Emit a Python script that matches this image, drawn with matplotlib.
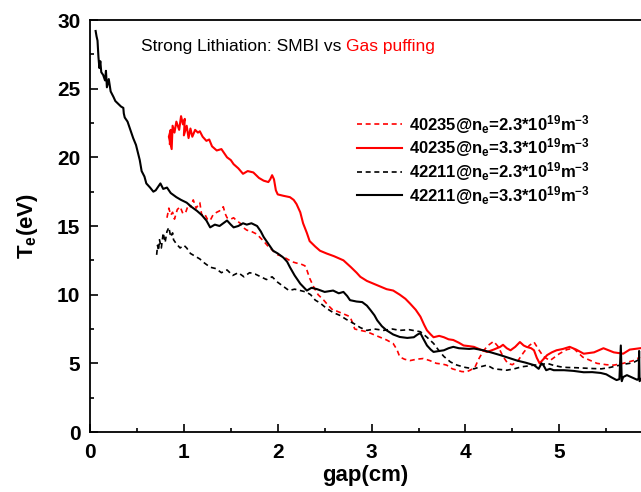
import matplotlib
matplotlib.use("Agg")
import matplotlib.pyplot as plt

plt.rcParams['font.family'] = ['Liberation Sans', 'DejaVu Sans']
plt.rcParams['mathtext.fontset'] = 'custom'
plt.rcParams['mathtext.rm'] = 'Liberation Sans:bold'
plt.rcParams['mathtext.it'] = 'Liberation Sans:bold'
plt.rcParams['mathtext.bf'] = 'Liberation Sans:bold'
plt.rcParams['mathtext.default'] = 'rm'

# ---------------- data ----------------
black_solid = [
    (0.06, 29.2), (0.07, 28.8), (0.08, 28.5), (0.09, 27.3), (0.10, 26.5), (0.11, 27.0),
    (0.12, 26.2), (0.14, 26.0), (0.16, 25.6), (0.17, 26.3), (0.18, 25.1), (0.20, 25.7),
    (0.22, 24.8), (0.25, 24.4), (0.27, 24.1), (0.30, 23.9), (0.33, 23.7), (0.355, 23.6),
    (0.36, 23.2), (0.37, 22.9), (0.40, 22.6), (0.43, 22.0), (0.46, 21.4), (0.49, 20.9),
    (0.515, 20.2), (0.53, 19.8), (0.55, 19.0), (0.58, 18.6), (0.60, 18.1), (0.64, 17.8),
    (0.675, 17.5), (0.70, 17.6), (0.73, 17.9), (0.75, 18.1), (0.78, 17.7), (0.82, 17.8),
    (0.86, 17.4), (0.92, 17.1), (0.97, 16.9), (1.03, 16.7), (1.08, 16.4), (1.14, 16.1),
    (1.19, 15.8), (1.24, 15.4), (1.28, 14.9), (1.33, 15.1), (1.38, 15.0), (1.42, 15.2),
    (1.46, 15.4), (1.50, 15.1), (1.53, 14.9), (1.58, 15.0), (1.63, 15.2), (1.67, 15.1),
    (1.72, 15.2), (1.78, 15.0), (1.82, 14.6), (1.85, 14.2), (1.90, 13.7), (1.95, 13.2),
    (2.00, 13.0), (2.06, 12.7), (2.10, 12.4), (2.13, 12.0), (2.18, 11.4), (2.24, 10.8),
    (2.31, 10.3), (2.36, 10.5), (2.42, 10.4), (2.50, 10.2), (2.59, 10.3), (2.65, 10.1),
    (2.70, 10.2), (2.74, 9.9), (2.77, 9.6), (2.84, 9.5), (2.90, 9.46), (2.95, 9.2),
    (2.99, 8.86), (3.03, 8.5), (3.06, 8.13), (3.11, 7.7), (3.16, 7.4), (3.23, 7.1),
    (3.30, 6.92), (3.38, 6.85), (3.45, 6.9), (3.49, 7.1), (3.52, 7.2), (3.55, 6.8),
    (3.59, 6.3), (3.63, 6.0), (3.66, 5.83), (3.72, 5.9), (3.77, 5.95), (3.82, 6.1),
    (3.87, 6.2), (3.93, 6.1), (3.98, 6.08), (4.04, 6.05), (4.09, 6.08), (4.19, 5.95),
    (4.28, 5.78), (4.37, 5.6), (4.46, 5.4), (4.55, 5.2), (4.64, 5.05), (4.73, 4.87),
    (4.78, 4.6), (4.81, 5.0), (4.83, 4.87), (4.86, 4.5), (4.90, 4.6), (4.94, 4.5),
    (5.05, 4.5), (5.15, 4.45), (5.26, 4.35), (5.35, 4.36), (5.44, 4.3), (5.50, 4.2),
    (5.55, 4.0), (5.61, 3.78), (5.64, 3.85), (5.655, 6.3), (5.665, 3.7), (5.68, 4.0),
    (5.72, 4.14), (5.78, 3.95), (5.83, 3.8), (5.845, 3.9), (5.85, 5.9), (5.855, 3.7),
    (5.87, 3.85),
]

black_dashed = [
    (0.71, 12.9), (0.72, 13.6), (0.73, 13.2), (0.74, 14.0), (0.76, 13.4), (0.78, 14.5),
    (0.80, 13.8), (0.82, 14.6), (0.84, 14.9), (0.86, 14.2), (0.88, 14.5), (0.89, 14.0),
    (0.92, 13.7), (0.96, 13.4), (1.00, 13.6), (1.03, 13.4), (1.07, 13.0), (1.12, 12.8),
    (1.17, 12.6), (1.22, 12.3), (1.28, 12.0), (1.34, 11.9), (1.40, 11.6), (1.46, 11.8),
    (1.52, 11.4), (1.58, 11.6), (1.64, 11.3), (1.70, 11.6), (1.76, 11.5), (1.82, 11.3),
    (1.88, 11.1), (1.94, 11.3), (2.00, 10.9), (2.06, 10.6), (2.12, 10.3), (2.18, 10.4),
    (2.24, 10.3), (2.30, 10.2), (2.35, 10.0), (2.40, 9.6), (2.45, 9.4), (2.52, 9.0),
    (2.59, 8.7), (2.66, 8.5), (2.73, 8.2), (2.81, 7.9), (2.88, 7.6), (2.95, 7.4),
    (3.03, 7.5), (3.13, 7.4), (3.22, 7.5), (3.30, 7.4), (3.40, 7.45), (3.52, 7.3),
    (3.59, 6.9), (3.66, 6.45), (3.72, 5.9), (3.77, 5.5), (3.84, 5.1), (3.91, 4.87),
    (4.00, 4.7), (4.09, 4.6), (4.16, 4.75), (4.23, 4.87), (4.30, 4.6), (4.37, 4.55),
    (4.44, 4.5), (4.52, 4.6), (4.60, 4.75), (4.66, 4.8), (4.73, 4.87), (4.80, 4.9),
    (4.87, 5.0), (4.94, 4.85), (5.01, 4.75), (5.08, 4.7), (5.18, 4.68), (5.27, 4.65),
    (5.36, 4.62), (5.45, 4.6), (5.54, 4.7), (5.60, 4.8), (5.65, 4.87), (5.70, 4.95),
    (5.75, 5.0), (5.80, 5.1), (5.83, 5.2), (5.86, 5.35),
]

red_solid = [
    (0.85, 21.0), (0.86, 22.0), (0.84, 21.5), (0.87, 20.6), (0.88, 22.3), (0.90, 21.8),
    (0.92, 22.6), (0.95, 22.0), (0.97, 23.0), (0.99, 22.4), (1.01, 22.8), (1.00, 21.6),
    (1.03, 22.3), (1.05, 21.4), (1.07, 22.1), (1.09, 21.5), (1.12, 22.0), (1.15, 21.8),
    (1.17, 21.9), (1.20, 21.5), (1.24, 21.2), (1.27, 21.3), (1.30, 20.8), (1.35, 20.5),
    (1.40, 20.6), (1.46, 20.0), (1.50, 19.8), (1.53, 19.5), (1.58, 19.2), (1.63, 18.8),
    (1.68, 19.0), (1.74, 18.9), (1.80, 18.5), (1.85, 18.3), (1.90, 18.2), (1.92, 18.4),
    (1.94, 18.7), (1.96, 18.4), (1.98, 17.6), (2.00, 17.3), (2.06, 17.2), (2.13, 17.1),
    (2.17, 16.9), (2.20, 16.6), (2.24, 16.0), (2.27, 15.2), (2.31, 14.5), (2.34, 13.9),
    (2.40, 13.5), (2.45, 13.2), (2.52, 13.0), (2.60, 12.8), (2.70, 12.5), (2.78, 12.0),
    (2.84, 11.6), (2.88, 11.3), (2.95, 11.0), (3.02, 10.8), (3.09, 10.6), (3.16, 10.4),
    (3.23, 10.3), (3.30, 10.0), (3.36, 9.7), (3.41, 9.35), (3.47, 8.9), (3.52, 8.4),
    (3.56, 7.8), (3.59, 7.4), (3.63, 7.1), (3.66, 6.9), (3.72, 7.0), (3.77, 6.9),
    (3.82, 6.75), (3.87, 6.7), (3.93, 6.5), (3.98, 6.3), (4.04, 6.25), (4.09, 6.2),
    (4.16, 6.0), (4.23, 5.83), (4.30, 6.0), (4.37, 6.2), (4.40, 6.35), (4.44, 6.1),
    (4.48, 5.95), (4.53, 6.2), (4.58, 6.55), (4.62, 6.3), (4.65, 6.2), (4.70, 6.1),
    (4.73, 5.95), (4.76, 5.4), (4.79, 5.0), (4.83, 5.3), (4.87, 5.6), (4.92, 5.8),
    (4.97, 5.95), (5.04, 6.05), (5.11, 6.2), (5.18, 6.0), (5.26, 5.7), (5.37, 5.8),
    (5.47, 6.1), (5.58, 5.8), (5.68, 5.7), (5.75, 6.0), (5.86, 6.1),
]

red_dashed = [
    (0.82, 15.6), (0.84, 16.3), (0.86, 15.8), (0.88, 16.0), (0.90, 15.5), (0.93, 16.2),
    (0.96, 16.4), (0.99, 15.9), (1.02, 16.0), (1.05, 16.6), (1.07, 16.4), (1.10, 16.9),
    (1.13, 16.3), (1.17, 16.7), (1.19, 15.8), (1.22, 15.9), (1.25, 15.5), (1.28, 15.4),
    (1.31, 15.8), (1.35, 16.0), (1.38, 16.1), (1.42, 16.4), (1.44, 15.9), (1.46, 15.6),
    (1.50, 15.5), (1.53, 15.6), (1.56, 15.4), (1.60, 15.2), (1.63, 14.9), (1.67, 14.7),
    (1.72, 14.6), (1.78, 14.4), (1.82, 14.1), (1.85, 13.9), (1.90, 13.5), (1.95, 13.2),
    (2.00, 12.9), (2.05, 12.8), (2.10, 12.6), (2.15, 12.4), (2.20, 12.3), (2.24, 12.25),
    (2.29, 12.1), (2.31, 11.8), (2.34, 11.2), (2.38, 10.6), (2.43, 10.0), (2.49, 9.6),
    (2.54, 9.2), (2.59, 8.86), (2.63, 8.8), (2.70, 8.6), (2.77, 8.4), (2.80, 7.9),
    (2.82, 7.5), (2.88, 7.4), (2.95, 7.3), (3.02, 7.1), (3.09, 6.9), (3.16, 6.7),
    (3.23, 6.44), (3.27, 6.0), (3.30, 5.47), (3.35, 5.3), (3.41, 5.2), (3.48, 5.3),
    (3.55, 5.35), (3.62, 5.2), (3.69, 5.0), (3.75, 4.95), (3.80, 4.87), (3.86, 4.6),
    (3.91, 4.5), (3.96, 4.4), (4.01, 4.38), (4.05, 4.5), (4.10, 4.7), (4.14, 5.3),
    (4.19, 5.9), (4.24, 6.3), (4.30, 6.6), (4.35, 6.2), (4.40, 5.5), (4.45, 5.0),
    (4.50, 4.9), (4.56, 5.2), (4.62, 5.8), (4.68, 6.3), (4.73, 6.55), (4.78, 6.0),
    (4.83, 5.5), (4.90, 5.2), (5.00, 5.7), (5.08, 6.0), (5.15, 6.1), (5.25, 5.45),
    (5.40, 5.0), (5.50, 4.9), (5.58, 4.87), (5.68, 5.0), (5.79, 5.2), (5.86, 5.45),
]

series_labels = [
    r'40235@n$_e$=2.3*10$^{19}$m$^{-3}$',
    r'40235@n$_e$=3.3*10$^{19}$m$^{-3}$',
    r'42211@n$_e$=2.3*10$^{19}$m$^{-3}$',
    r'42211@n$_e$=3.3*10$^{19}$m$^{-3}$',
]
x_ticks = [0, 1, 2, 3, 4, 5]
y_ticks = [0, 5, 10, 15, 20, 25, 30]

# ---------------- figure ----------------
fig = plt.figure(figsize=(6.41, 4.92), dpi=100)
ax = fig.add_axes([90 / 641, 60 / 492, 1 - 90 / 641, 412 / 492])

def xy(data):
    return [p[0] for p in data], [p[1] for p in data]

dash = (0, (3.0, 2.2))
x, y = xy(red_dashed)
ax.plot(x, y, color='#ff0000', lw=1.2, ls=dash, label=series_labels[0])
x, y = xy(red_solid)
ax.plot(x, y, color='#ff0000', lw=1.5, ls='-', label=series_labels[1])
x, y = xy(black_dashed)
ax.plot(x, y, color='black', lw=1.2, ls=dash, label=series_labels[2])
x, y = xy(black_solid)
ax.plot(x, y, color='black', lw=1.5, ls='-', label=series_labels[3])

ax.set_xlim(0, 5.87)
ax.set_ylim(0, 30)
ax.set_xticks(x_ticks)
ax.set_yticks(y_ticks)
ax.set_xticks([0.5, 1.5, 2.5, 3.5, 4.5, 5.5], minor=True)
ax.set_yticks([2.5, 7.5, 12.5, 17.5, 22.5, 27.5], minor=True)
ax.tick_params(which='both', direction='in', width=1.2)
ax.tick_params(which='major', length=6, labelsize=15)
ax.tick_params(axis='x', which='major', pad=8)
ax.tick_params(axis='y', which='major', pad=7)
ax.tick_params(which='minor', length=3)
for lab in ax.get_xticklabels() + ax.get_yticklabels():
    lab.set_fontweight('bold')

for s in ['left', 'bottom', 'top']:
    ax.spines[s].set_linewidth(1.3)
ax.spines['right'].set_visible(False)

ax.set_xlabel('gap(cm)', fontsize=16, fontweight='bold', labelpad=2)
ax.set_ylabel(r'T$_e$(eV)', fontsize=16, fontweight='bold', labelpad=12)

t1 = ax.text(0.092, 0.935, 'Strong Lithiation: SMBI vs ', transform=ax.transAxes,
             fontsize=12.5, color='black', va='center', ha='left')
ax.annotate('Gas puffing', xy=(1, 0), xycoords=t1, va='bottom', ha='left',
            fontsize=12.5, color='#ff0000')

leg = ax.legend(loc='upper left', bbox_to_anchor=(0.485, 0.775), frameon=False,
                prop={'weight': 'bold', 'size': 12}, handlelength=2.7,
                handletextpad=0.4, labelspacing=0.05, borderaxespad=0, borderpad=0)

fig.savefig('out.png', dpi=100)
